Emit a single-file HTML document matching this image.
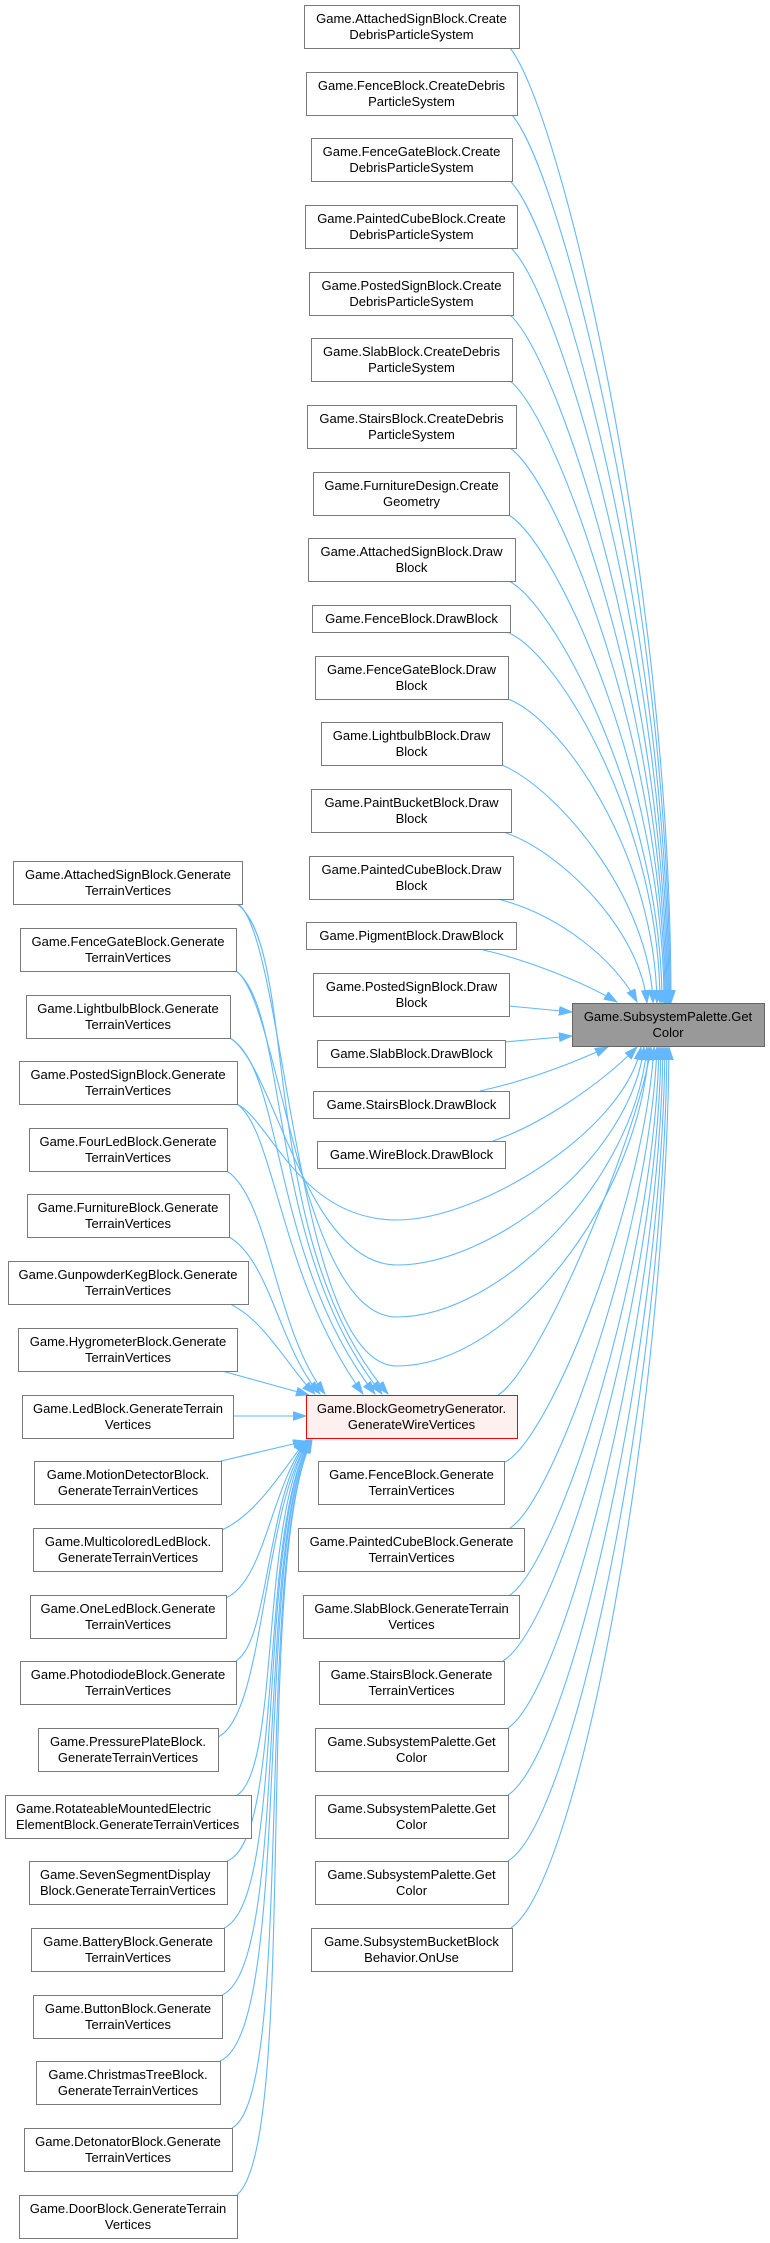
<!DOCTYPE html>
<html><head><meta charset="utf-8"><style>
html,body{margin:0;padding:0;background:#fff;}
svg{display:block;}
text{font-family:"Liberation Sans",Arial,sans-serif;font-size:13px;fill:#000;}
.n{fill:#fff;stroke:#7a7a7a;stroke-width:1;}
.e{fill:none;stroke:#63b8ff;stroke-width:1.1;marker-end:url(#ah);}
</style></head><body>
<svg width="770" height="2243" viewBox="0 0 770 2243" xmlns="http://www.w3.org/2000/svg">
<defs>
<marker id="ah" markerUnits="userSpaceOnUse" markerWidth="14" markerHeight="10" refX="13" refY="4.5" orient="auto">
<path d="M0,0 L13,4.5 L0,9 z" fill="#63b8ff" stroke="#63b8ff" stroke-width="0.8"/>
</marker>
</defs>
<g>
<path class="e" d="M510,48 C560,110 671,573 671,1003"/>
<path class="e" d="M512,115 C562,173 670,603 670,1003"/>
<path class="e" d="M511,182 C561,235 669,634 669,1003"/>
<path class="e" d="M511,248 C561,297 668,663 668,1003"/>
<path class="e" d="M510,315 C560,360 667,693 667,1003"/>
<path class="e" d="M510,381 C560,421 666,723 666,1003"/>
<path class="e" d="M510,448 C560,484 665,753 665,1003"/>
<path class="e" d="M509,515 C559,547 664,783 664,1003"/>
<path class="e" d="M509,581 C559,608 662,813 662,1003"/>
<path class="e" d="M507,632 C562,655 660,830 660,1003"/>
<path class="e" d="M508,699 C563,720 655,855 657,1003"/>
<path class="e" d="M502,765 C560,790 650,900 653,1003"/>
<path class="e" d="M503,832 C560,850 640,930 647,1003"/>
<path class="e" d="M498,899 C560,915 615,960 637,1002"/>
<path class="e" d="M483,950 C520,958 580,980 617,1002"/>
<path class="e" d="M509,1006 L572,1012"/>
<path class="e" d="M505,1042 L572,1036"/>
<path class="e" d="M480,1091 C530,1080 575,1062 608,1047"/>
<path class="e" d="M493,1141 C540,1125 600,1085 637,1047"/>
<path class="e" d="M498,1395 C540,1370 640,1130 651,1047"/>
<path class="e" d="M237,1104 C270,1120 300,1220 397,1220 C480,1220 625,1130 641,1047"/>
<path class="e" d="M230,1038 C275,1065 305,1265 397,1265 C490,1265 630,1160 644,1047"/>
<path class="e" d="M236,971 C280,1000 300,1317 397,1317 C500,1317 635,1180 647,1047"/>
<path class="e" d="M238,904 C285,935 295,1366 397,1366 C510,1366 640,1200 649,1047"/>
<path class="e" d="M505,1462 C550,1440 645,1200 654,1047"/>
<path class="e" d="M510,1528 C555,1500 650,1230 657,1047"/>
<path class="e" d="M510,1595 C560,1560 655,1260 659,1047"/>
<path class="e" d="M503,1661 C560,1625 658,1290 661,1047"/>
<path class="e" d="M508,1728 C565,1690 660,1320 663,1047"/>
<path class="e" d="M508,1795 C570,1755 662,1350 665,1047"/>
<path class="e" d="M508,1861 C575,1820 664,1380 667,1047"/>
<path class="e" d="M511,1928 C580,1880 666,1410 669,1047"/>
<path class="e" d="M237,904 C300,950 255,1240 388,1394"/>
<path class="e" d="M236,971 C290,1010 265,1250 382,1394"/>
<path class="e" d="M230,1038 C285,1070 270,1260 375,1394"/>
<path class="e" d="M237,1104 C275,1130 280,1280 363,1394"/>
<path class="e" d="M227,1171 C270,1200 275,1330 325,1394"/>
<path class="e" d="M229,1237 C270,1260 280,1350 320,1394"/>
<path class="e" d="M230,1304 C265,1320 290,1370 315,1394"/>
<path class="e" d="M222,1371 L309,1395"/>
<path class="e" d="M233,1416 L306,1416"/>
<path class="e" d="M221,1461 L306,1441"/>
<path class="e" d="M222,1530 C255,1515 280,1475 306,1440"/>
<path class="e" d="M226,1598 C265,1580 270,1490 307,1440"/>
<path class="e" d="M236,1661 C270,1640 265,1500 308,1440"/>
<path class="e" d="M218,1737 C265,1715 262,1510 309,1440"/>
<path class="e" d="M237,1795 C280,1770 260,1520 309,1440"/>
<path class="e" d="M227,1861 C285,1840 258,1530 310,1440"/>
<path class="e" d="M224,1928 C287,1900 256,1540 310,1440"/>
<path class="e" d="M222,1995 C290,1965 255,1545 311,1440"/>
<path class="e" d="M220,2061 C293,2030 254,1550 311,1440"/>
<path class="e" d="M232,2128 C296,2095 253,1555 312,1440"/>
<path class="e" d="M237,2195 C300,2140 252,1560 312,1440"/>
</g>

<g text-anchor="middle">
<rect class="n" x="304.5" y="5.5" width="215" height="43"/><text x="411.5" y="23">Game.AttachedSignBlock.Create</text><text x="411.5" y="39">DebrisParticleSystem</text>
<rect class="n" x="306.5" y="72.5" width="211" height="43"/><text x="411.5" y="90">Game.FenceBlock.CreateDebris</text><text x="411.5" y="106">ParticleSystem</text>
<rect class="n" x="311.5" y="138.5" width="201" height="43"/><text x="411.5" y="156">Game.FenceGateBlock.Create</text><text x="411.5" y="172">DebrisParticleSystem</text>
<rect class="n" x="305.5" y="205.5" width="212" height="43"/><text x="411.5" y="223">Game.PaintedCubeBlock.Create</text><text x="411.5" y="239">DebrisParticleSystem</text>
<rect class="n" x="309.5" y="272.5" width="204" height="43"/><text x="411.5" y="290">Game.PostedSignBlock.Create</text><text x="411.5" y="306">DebrisParticleSystem</text>
<rect class="n" x="311.5" y="338.5" width="201" height="43"/><text x="411.5" y="356">Game.SlabBlock.CreateDebris</text><text x="411.5" y="372">ParticleSystem</text>
<rect class="n" x="307.5" y="405.5" width="209" height="43"/><text x="411.5" y="423">Game.StairsBlock.CreateDebris</text><text x="411.5" y="439">ParticleSystem</text>
<rect class="n" x="313.5" y="472.5" width="196" height="43"/><text x="411.5" y="490">Game.FurnitureDesign.Create</text><text x="411.5" y="506">Geometry</text>
<rect class="n" x="308.5" y="538.5" width="207" height="43"/><text x="411.5" y="556">Game.AttachedSignBlock.Draw</text><text x="411.5" y="572">Block</text>
<rect class="n" x="312.5" y="605.5" width="198" height="27"/><text x="411.5" y="623">Game.FenceBlock.DrawBlock</text>
<rect class="n" x="315.5" y="656.5" width="193" height="43"/><text x="411.5" y="674">Game.FenceGateBlock.Draw</text><text x="411.5" y="690">Block</text>
<rect class="n" x="321.5" y="722.5" width="181" height="43"/><text x="411.5" y="740">Game.LightbulbBlock.Draw</text><text x="411.5" y="756">Block</text>
<rect class="n" x="311.5" y="789.5" width="200" height="43"/><text x="411.5" y="807">Game.PaintBucketBlock.Draw</text><text x="411.5" y="823">Block</text>
<rect class="n" x="309.5" y="856.5" width="204" height="43"/><text x="411.5" y="874">Game.PaintedCubeBlock.Draw</text><text x="411.5" y="890">Block</text>
<rect class="n" x="306.5" y="922.5" width="210" height="27"/><text x="411.5" y="940">Game.PigmentBlock.DrawBlock</text>
<rect class="n" x="313.5" y="973.5" width="196" height="43"/><text x="411.5" y="991">Game.PostedSignBlock.Draw</text><text x="411.5" y="1007">Block</text>
<rect class="n" x="317.5" y="1040.5" width="188" height="27"/><text x="411.5" y="1058">Game.SlabBlock.DrawBlock</text>
<rect class="n" x="313.5" y="1091.5" width="196" height="27"/><text x="411.5" y="1109">Game.StairsBlock.DrawBlock</text>
<rect class="n" x="317.5" y="1141.5" width="188" height="27"/><text x="411.5" y="1159">Game.WireBlock.DrawBlock</text>
<rect x="306.5" y="1395.5" width="211" height="43" fill="#fff0f0" stroke="#ff0000" stroke-width="1"/><text x="411.5" y="1413">Game.BlockGeometryGenerator.</text><text x="411.5" y="1429">GenerateWireVertices</text>
<rect class="n" x="318.5" y="1461.5" width="186" height="43"/><text x="411.5" y="1479">Game.FenceBlock.Generate</text><text x="411.5" y="1495">TerrainVertices</text>
<rect class="n" x="298.5" y="1528.5" width="226" height="43"/><text x="411.5" y="1546">Game.PaintedCubeBlock.Generate</text><text x="411.5" y="1562">TerrainVertices</text>
<rect class="n" x="303.5" y="1595.5" width="216" height="43"/><text x="411.5" y="1613">Game.SlabBlock.GenerateTerrain</text><text x="411.5" y="1629">Vertices</text>
<rect class="n" x="319.5" y="1661.5" width="185" height="43"/><text x="411.5" y="1679">Game.StairsBlock.Generate</text><text x="411.5" y="1695">TerrainVertices</text>
<rect class="n" x="315.5" y="1728.5" width="193" height="43"/><text x="411.5" y="1746">Game.SubsystemPalette.Get</text><text x="411.5" y="1762">Color</text>
<rect class="n" x="315.5" y="1795.5" width="193" height="43"/><text x="411.5" y="1813">Game.SubsystemPalette.Get</text><text x="411.5" y="1829">Color</text>
<rect class="n" x="315.5" y="1861.5" width="193" height="43"/><text x="411.5" y="1879">Game.SubsystemPalette.Get</text><text x="411.5" y="1895">Color</text>
<rect class="n" x="311.5" y="1928.5" width="201" height="43"/><text x="411.5" y="1946">Game.SubsystemBucketBlock</text><text x="411.5" y="1962">Behavior.OnUse</text>

<rect x="572.5" y="1003.5" width="192" height="43" fill="#999999" stroke="#666666" stroke-width="1"/><text x="668" y="1021">Game.SubsystemPalette.Get</text><text x="668" y="1037">Color</text>

<rect class="n" x="13.5" y="861.5" width="229" height="43"/><text x="128" y="879">Game.AttachedSignBlock.Generate</text><text x="128" y="895">TerrainVertices</text>
<rect class="n" x="20.5" y="928.5" width="216" height="43"/><text x="128" y="946">Game.FenceGateBlock.Generate</text><text x="128" y="962">TerrainVertices</text>
<rect class="n" x="26.5" y="995.5" width="204" height="43"/><text x="128" y="1013">Game.LightbulbBlock.Generate</text><text x="128" y="1029">TerrainVertices</text>
<rect class="n" x="19.5" y="1061.5" width="218" height="43"/><text x="128" y="1079">Game.PostedSignBlock.Generate</text><text x="128" y="1095">TerrainVertices</text>
<rect class="n" x="29.5" y="1128.5" width="198" height="43"/><text x="128" y="1146">Game.FourLedBlock.Generate</text><text x="128" y="1162">TerrainVertices</text>
<rect class="n" x="27.5" y="1194.5" width="202" height="43"/><text x="128" y="1212">Game.FurnitureBlock.Generate</text><text x="128" y="1228">TerrainVertices</text>
<rect class="n" x="8.5" y="1261.5" width="240" height="43"/><text x="128" y="1279">Game.GunpowderKegBlock.Generate</text><text x="128" y="1295">TerrainVertices</text>
<rect class="n" x="18.5" y="1328.5" width="219" height="43"/><text x="128" y="1346">Game.HygrometerBlock.Generate</text><text x="128" y="1362">TerrainVertices</text>
<rect class="n" x="22.5" y="1395.5" width="211" height="43"/><text x="128" y="1413">Game.LedBlock.GenerateTerrain</text><text x="128" y="1429">Vertices</text>
<rect class="n" x="34.5" y="1461.5" width="187" height="43"/><text x="128" y="1479">Game.MotionDetectorBlock.</text><text x="128" y="1495">GenerateTerrainVertices</text>
<rect class="n" x="33.5" y="1528.5" width="189" height="43"/><text x="128" y="1546">Game.MulticoloredLedBlock.</text><text x="128" y="1562">GenerateTerrainVertices</text>
<rect class="n" x="30.5" y="1595.5" width="196" height="43"/><text x="128" y="1613">Game.OneLedBlock.Generate</text><text x="128" y="1629">TerrainVertices</text>
<rect class="n" x="20.5" y="1661.5" width="216" height="43"/><text x="128" y="1679">Game.PhotodiodeBlock.Generate</text><text x="128" y="1695">TerrainVertices</text>
<rect class="n" x="38.5" y="1728.5" width="180" height="43"/><text x="128" y="1746">Game.PressurePlateBlock.</text><text x="128" y="1762">GenerateTerrainVertices</text>
<rect class="n" x="5.5" y="1795.5" width="246" height="43"/><text x="16" y="1813" text-anchor="start">Game.RotateableMountedElectric</text><text x="16" y="1829" text-anchor="start">ElementBlock.GenerateTerrainVertices</text>
<rect class="n" x="29.5" y="1861.5" width="198" height="43"/><text x="40" y="1879" text-anchor="start">Game.SevenSegmentDisplay</text><text x="40" y="1895" text-anchor="start">Block.GenerateTerrainVertices</text>
<rect class="n" x="31.5" y="1928.5" width="193" height="43"/><text x="128" y="1946">Game.BatteryBlock.Generate</text><text x="128" y="1962">TerrainVertices</text>
<rect class="n" x="33.5" y="1995.5" width="189" height="43"/><text x="128" y="2013">Game.ButtonBlock.Generate</text><text x="128" y="2029">TerrainVertices</text>
<rect class="n" x="36.5" y="2061.5" width="184" height="43"/><text x="128" y="2079">Game.ChristmasTreeBlock.</text><text x="128" y="2095">GenerateTerrainVertices</text>
<rect class="n" x="24.5" y="2128.5" width="208" height="43"/><text x="128" y="2146">Game.DetonatorBlock.Generate</text><text x="128" y="2162">TerrainVertices</text>
<rect class="n" x="19.5" y="2195.5" width="218" height="43"/><text x="128" y="2213">Game.DoorBlock.GenerateTerrain</text><text x="128" y="2229">Vertices</text>
</g>
</svg>
</body></html>
